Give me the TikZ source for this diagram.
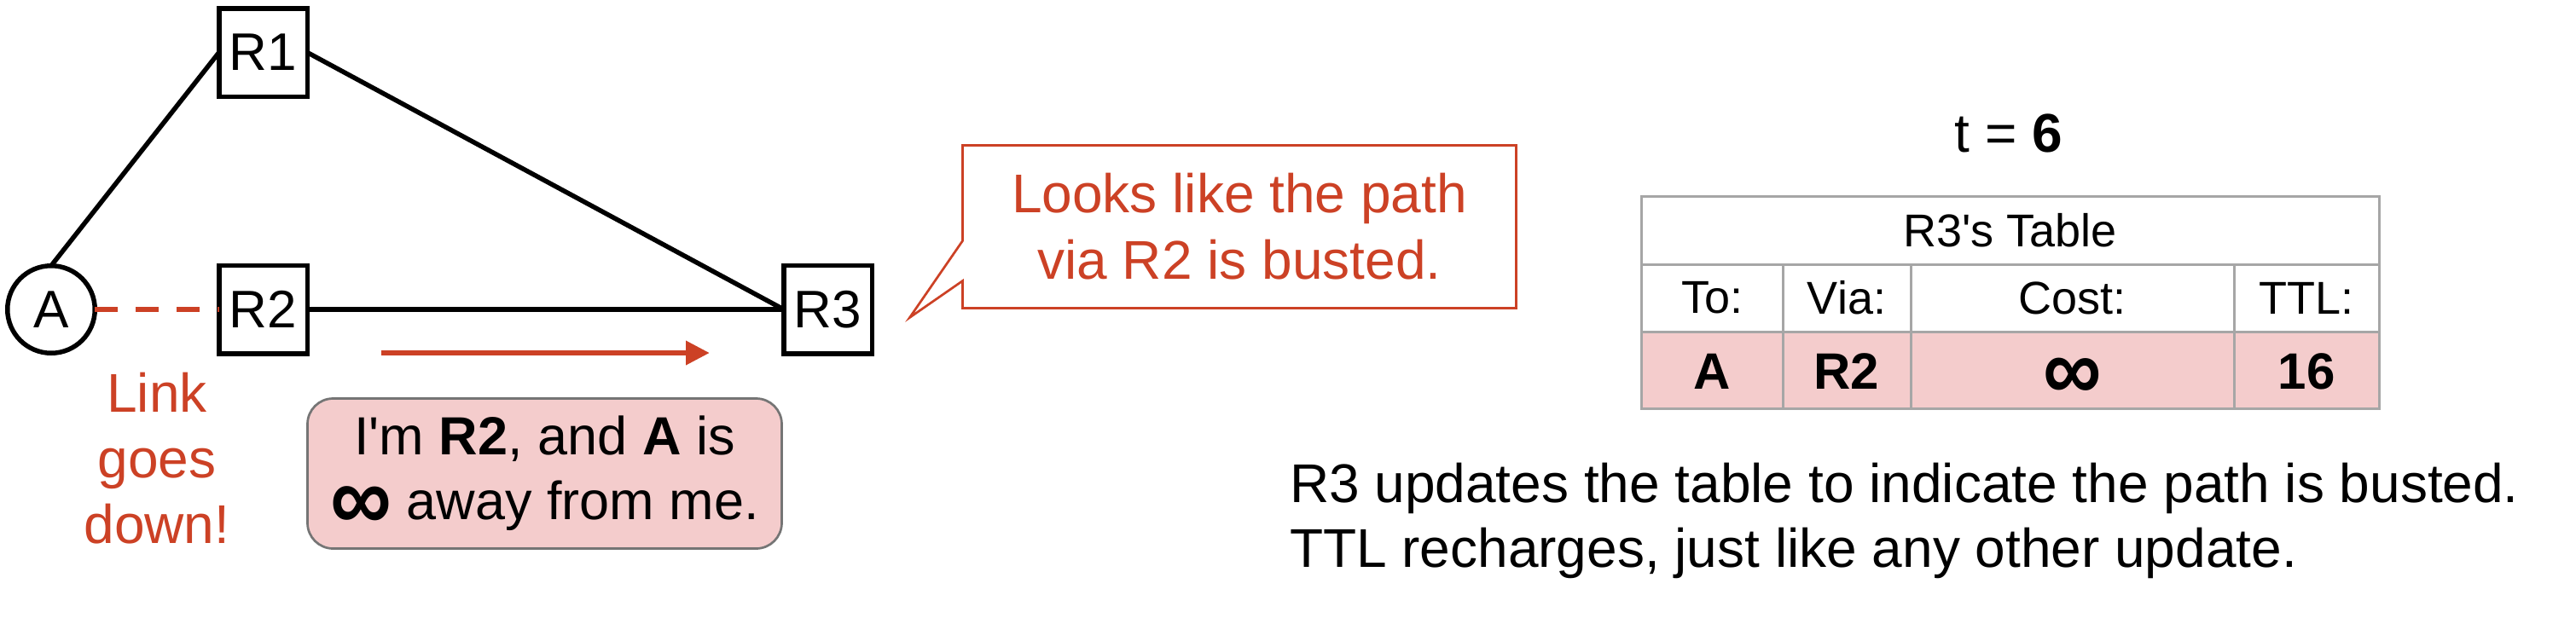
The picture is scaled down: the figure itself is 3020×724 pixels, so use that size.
\documentclass[tikz,border=0pt]{standalone}
\usepackage{fontspec}
\setmainfont{Liberation Sans}[Ligatures=TeXOff]
\usetikzlibrary{arrows.meta,calc}
\definecolor{redtxt}{HTML}{CC4125}
\definecolor{pinkfill}{HTML}{F4CCCC}
\definecolor{boxgray}{HTML}{757575}
\definecolor{tblgray}{HTML}{A6A6A6}
\newcommand{\biginf}{\raisebox{-13pt}[0pt][0pt]{\scalebox{1.6}[1.75]{\textbf{∞}}}}
\begin{document}
\begin{tikzpicture}[x=1pt,y=-1pt,
  every node/.style={inner sep=0pt, outer sep=0pt},
  router/.style={draw, rectangle, line width=5.5pt, minimum width=103.5pt, minimum height=103.5pt, font=\fontsize{62}{74}\selectfont},
  host/.style={draw, circle, line width=5.5pt, minimum size=102.5pt, font=\fontsize{62}{74}\selectfont},
  link/.style={line width=5.5pt},
  downlink/.style={draw=redtxt, line width=6pt, dash pattern=on 27pt off 21pt},
  msgarrow/.style={draw=redtxt, line width=6.7pt, -{Triangle[length=28pt,width=27pt]}},
  redlabel/.style={text=redtxt, align=center, font=\fontsize{64}{77}\selectfont},
  msgbox/.style={draw=boxgray, fill=pinkfill, line width=2.7pt, rounded corners=30pt, minimum width=556pt, minimum height=176pt, align=center, font=\fontsize{63}{76}\selectfont},
  bubble/.style={draw=redtxt, line width=2.7pt, line join=miter},
  bubbletext/.style={text=redtxt, align=center, minimum width=649pt, minimum height=191pt, font=\fontsize{64}{78}\selectfont},
  cell/.style={draw=tblgray, line width=3pt, font=\fontsize{54}{64}\selectfont},
  valcell/.style={cell, fill=pinkfill, text height=45pt, text depth=0pt, font=\fontsize{60}{70}\selectfont\bfseries},
  plain/.style={font=\fontsize{64}{76}\selectfont}
]
\useasboundingbox (0,0) rectangle (3020,724);

% network
\node[host] (A) at (60,363) {A};
\node[router] (R1) at (308.5,61.5) {R1};
\node[router] (R2) at (308.5,363) {R2};
\node[router] (R3) at (970.5,363) {R3};

\draw[link] (A.north) -- (R1.west);
\draw[link] (R1.east) -- (R3.west);
\draw[link] (R2.east) -- (R3.west);
\draw[downlink] (A.east) -- (R2.west);

\node[redlabel] (down) at (184,538) {Link\\goes\\down!};

\coordinate (m1) at (447,414);
\coordinate (m2) at (832,414);
\draw[msgarrow] (m1) -- (m2);

\node[msgbox] (msg) at (638.5,555.5) {I'm \textbf{R2}, and \textbf{A} is\\\biginf{} away from me.};

% speech bubble
\node[bubbletext] (bub) at (1453,266) {Looks like the path\\via R2 is busted.};
\draw[bubble] (bub.north west) -- (bub.north east) -- (bub.south east) -- (bub.south west)
  -- ($(bub.south west)+(0,-32)$) -- ($(bub.south west)+(-62,11)$) -- ($(bub.south west)+(0,-79)$) -- cycle;

% time
\node[plain, anchor=base] (t) at (2355,178) {t = \textbf{6}};

% table
\node[cell, minimum width=865pt, minimum height=80pt] (title) at (2356.5,270) {R3's Table};
\node[cell, minimum width=166pt, minimum height=79pt] (hTo) at (2007,349.5) {To:};
\node[cell, minimum width=150pt, minimum height=79pt] (hVia) at (2165,349.5) {Via:};
\node[cell, minimum width=379pt, minimum height=79pt] (hCost) at (2429.5,349.5) {Cost:};
\node[cell, minimum width=170pt, minimum height=79pt] (hTTL) at (2704,349.5) {TTL:};
\node[valcell, minimum width=166pt, minimum height=90pt] (vTo) at (2007,434) {A};
\node[valcell, minimum width=150pt, minimum height=90pt] (vVia) at (2165,434) {R2};
\node[valcell, minimum width=379pt, minimum height=90pt] (vCost) at (2429.5,434) {\biginf};
\node[valcell, minimum width=170pt, minimum height=90pt] (vTTL) at (2704,434) {16};

% caption
\node[plain, align=left, anchor=west] (cap) at (1512,610.5) {R3 updates the table to indicate the path is busted.\\TTL recharges, just like any other update.};
\end{tikzpicture}
\end{document}
